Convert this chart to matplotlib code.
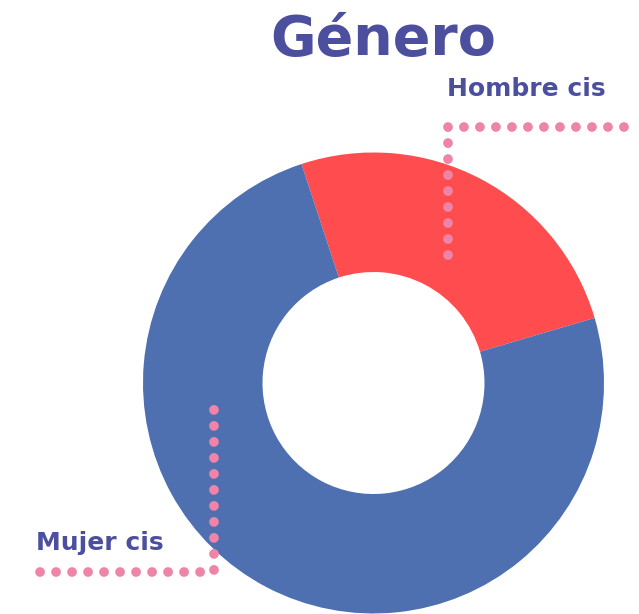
import matplotlib.pyplot as plt

# data (share of respondents, %)
labels = ['Hombre cis', 'Mujer cis']
values = [25.5, 74.5]
colors = ['#FF4C4E', '#4E6FB0']

W, H = 639, 614
text_col = '#4B4F9E'
dot_col = '#EE85A8'

fig = plt.figure(figsize=(W / 100, H / 100), dpi=100)
ax = fig.add_axes([0, 0, 1, 1])
ax.set_xlim(0, W)
ax.set_ylim(0, H)
ax.set_aspect('equal')
ax.axis('off')

ax.pie(values, colors=colors, startangle=108.2, counterclock=False,
       center=(373.5, H - 383), radius=230.5,
       wedgeprops=dict(width=119.5, edgecolor='none'))
ax.set_xlim(0, W)
ax.set_ylim(0, H)

# title
ax.text(383, H - 40, 'Género', ha='center', va='center', fontsize=40,
        fontweight='bold', color=text_col, family='DejaVu Sans')

# leader lines (dotted)
dots = dict(color=dot_col, lw=7, linestyle=(0, (0.01, 1.636)),
            dash_capstyle='round', zorder=5)
ax.plot([624, 448, 448], [H - 127, H - 127, H - 262], **dots)
ax.plot([40, 214, 214], [H - 572, H - 572, H - 405], **dots)

# labels
ax.text(447, H - 89, labels[0], ha='left', va='center', fontsize=18,
        fontweight='bold', color=text_col)
ax.text(36, H - 543, labels[1], ha='left', va='center', fontsize=18,
        fontweight='bold', color=text_col)

fig.savefig('out.png', dpi=100)
